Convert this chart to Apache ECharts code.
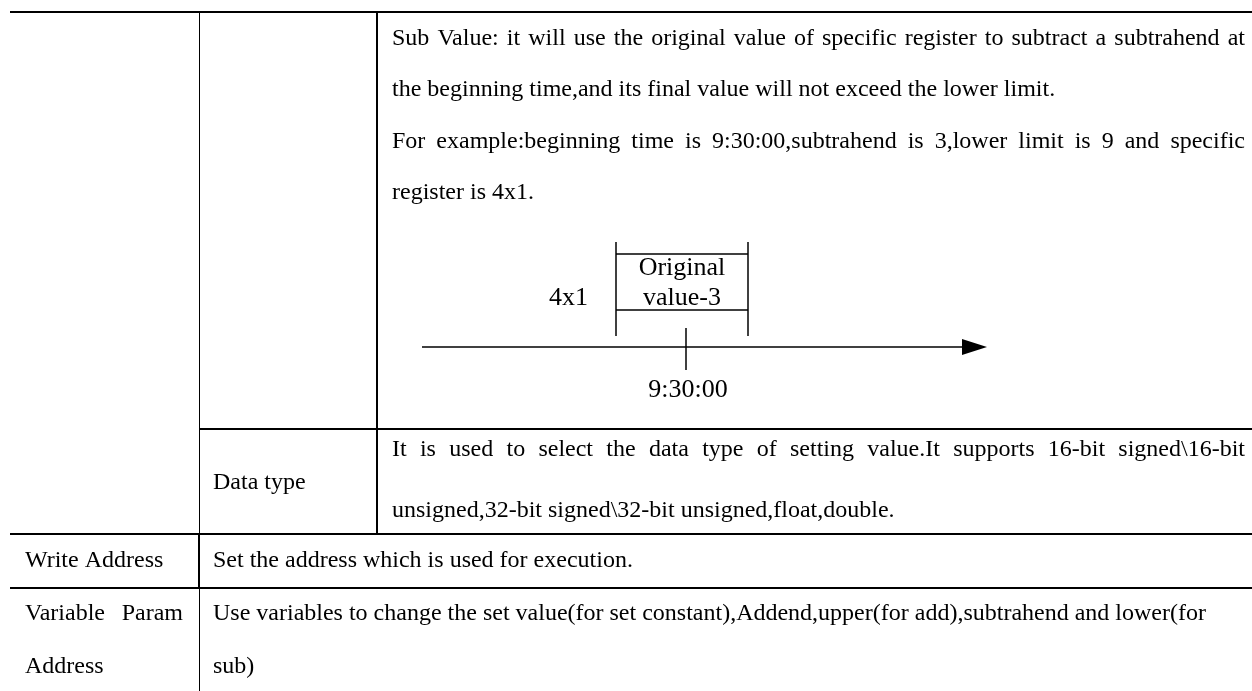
<!DOCTYPE html>
<html>
<head>
<meta charset="utf-8">
<script src="https://cdn.jsdelivr.net/npm/echarts@6/dist/echarts.min.js"></script>
<style>
html,body{margin:0;padding:0;background:#ffffff;}
#main{width:1252px;height:691px;}
</style>
</head>
<body>
<div id="main"></div>
<script>
// ---------- content ----------
const col1Labels = ['Write Address', 'Variable   Param', 'Address'];
const col2Labels = ['Data type'];
const subValueLines = [
  'Sub Value: it will use the original value of specific register to subtract a subtrahend at',
  'the beginning time,and its final value will not exceed the lower limit.',
  'For example:beginning time is 9:30:00,subtrahend is 3,lower limit is 9 and specific',
  'register is 4x1.'
];
const subValueJustify = [true, false, true, false];
const dataTypeLines = [
  'It is used to select the data type of setting value.It supports 16-bit signed\\16-bit',
  'unsigned,32-bit signed\\32-bit unsigned,float,double.'
];
const dataTypeJustify = [true, false];
const writeAddressText = 'Set the address which is used for execution.';
const variableLines = [
  'Use variables to change the set value(for set constant),Addend,upper(for add),subtrahend and lower(for',
  'sub)'
];
const diagramRegister = '4x1';
const diagramBoxLines = ['Original', 'value-3'];
const diagramTime = '9:30:00';

// ---------- layout ----------
const FAMILY = '"Liberation Serif","Times New Roman",serif';
const BODY = 24;
const DIAG = 26;
const colX = [10, 199, 377, 1252];
const rowY = [12, 429, 534, 588, 691];
const textRight = 1245;

const canvas = document.createElement('canvas');
const ctx = canvas.getContext('2d');
function measure(t, size) {
  ctx.font = size + 'px ' + FAMILY;
  return ctx.measureText(t).width;
}

const els = [];
function txt(t, x, y, size, align) {
  els.push({
    type: 'text', x: x, y: y, silent: true,
    style: { text: t, font: size + 'px ' + FAMILY, fill: '#000', textAlign: align || 'left', textVerticalAlign: 'middle' }
  });
}
function justified(t, x0, x1, y, size) {
  const words = t.split(/\s+/);
  if (words.length < 2) { txt(t, x0, y, size); return; }
  const widths = words.map(w => measure(w, size));
  const total = widths.reduce((a, b) => a + b, 0);
  const gap = Math.max(2, (x1 - x0 - total) / (words.length - 1));
  let x = x0;
  words.forEach((w, i) => { txt(w, x, y, size); x += widths[i] + gap; });
}
function line(x1, y1, x2, y2, w) {
  els.push({ type: 'line', silent: true, shape: { x1, y1, x2, y2 }, style: { stroke: '#000', lineWidth: w } });
}

// table rules
line(colX[0], 12, colX[3], 12, 2);
line(colX[1] + 0.5, 12, colX[1] + 0.5, rowY[2], 1);
line(colX[2], 12, colX[2], rowY[2], 2);
line(colX[1], rowY[1], colX[3], rowY[1], 2);
line(colX[0], rowY[2], colX[3], rowY[2], 2);
line(colX[1], rowY[2], colX[1], rowY[3], 2);
line(colX[0], rowY[3], colX[3], rowY[3], 2);
line(colX[1] + 0.5, rowY[3], colX[1] + 0.5, rowY[4], 1);

// Sub value cell
const subY = [39, 90, 142, 193];
subValueLines.forEach((t, i) => {
  if (subValueJustify[i]) justified(t, 392, textRight, subY[i], BODY);
  else txt(t, 392, subY[i], BODY);
});

// diagram
const bx0 = 616, bx1 = 748;
line(bx0, 242, bx0, 336, 1.5);
line(bx1, 242, bx1, 336, 1.5);
line(bx0, 254, bx1, 254, 1.5);
line(bx0, 310, bx1, 310, 1.5);
txt(diagramBoxLines[0], 682, 268, DIAG, 'center');
txt(diagramBoxLines[1], 682, 298, DIAG, 'center');
txt(diagramRegister, 588, 298, DIAG, 'right');
line(422, 347, 964, 347, 1.6);
els.push({ type: 'polygon', silent: true, shape: { points: [[962, 339], [987, 347], [962, 355]] }, style: { fill: '#000' } });
line(686, 328, 686, 370, 1.5);
txt(diagramTime, 688, 390, DIAG, 'center');

// Data type row
txt(col2Labels[0], 213, 483, BODY);
const dtY = [450, 511];
dataTypeLines.forEach((t, i) => {
  if (dataTypeJustify[i]) justified(t, 392, textRight, dtY[i], BODY);
  else txt(t, 392, dtY[i], BODY);
});

// Write address row
txt(col1Labels[0], 25, 561, BODY);
txt(writeAddressText, 213, 561, BODY);

// Variable row
justified(col1Labels[1], 25, 183, 614, BODY);
txt(col1Labels[2], 25, 667, BODY);
txt(variableLines[0], 213, 614, BODY);
txt(variableLines[1], 213, 667, BODY);

const chart = echarts.init(document.getElementById('main'), null, { renderer: 'canvas' });
chart.setOption({ backgroundColor: '#ffffff', animation: false, graphic: { elements: els } });
</script>
</body>
</html>
